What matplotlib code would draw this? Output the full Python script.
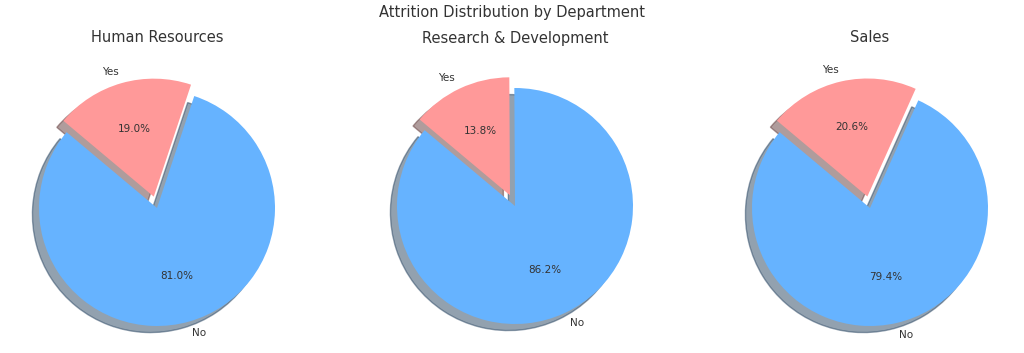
import matplotlib
matplotlib.use("Agg")
from matplotlib import pyplot as plt

departments = ["Human Resources", "Research & Development", "Sales"]
labels = ["No", "Yes"]
no_pct = [81.0, 86.2, 79.4]
yes_pct = [19.0, 13.8, 20.6]
colors = ["#66b3ff", "#ff9999"]
explode = (0, 0.1)

plt.rcParams["text.color"] = "#333333"

W, H = 1024, 353
fig = plt.figure(figsize=(W / 100, H / 100), dpi=100)

centers = [(157, 145), (515, 147), (870, 145)]
r = 118
box = 2.5 * r

for i, dept in enumerate(departments):
    cx, cy = centers[i]
    ax = fig.add_axes([(cx - box / 2) / W, (cy - box / 2) / H, box / W, box / H])
    ax.pie([no_pct[i], yes_pct[i]], labels=labels, colors=colors, explode=explode,
           autopct="%1.1f%%", startangle=140,
           shadow={"ox": -0.04, "oy": -0.04, "shade": 0.62},
           textprops={"fontsize": 7.5}, labeldistance=1.1)
    ax.set_aspect("equal")
    fig.text(cx / W, 1 - 38 / H, dept, fontsize=10.5, ha="center", va="center")

fig.text(0.5, 1 - 13 / H, "Attrition Distribution by Department",
         fontsize=10.5, ha="center", va="center")

fig.savefig("out.png", dpi=100)
